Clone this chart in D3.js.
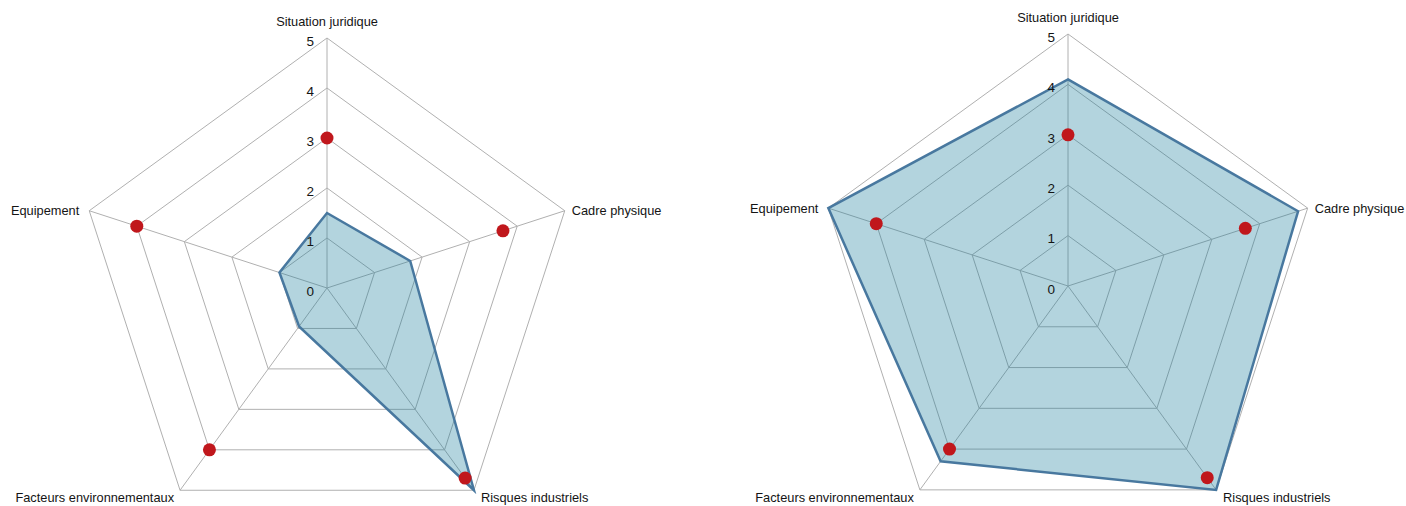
<!DOCTYPE html>
<html>
<head>
<meta charset="utf-8">
<script src="https://d3js.org/d3.v7.min.js"></script>
<style>
  html, body { margin: 0; padding: 0; background: #fff; }
  svg text { font-family: "Liberation Sans", Arial, sans-serif; font-size: 12.8px; fill: #141414; }
</style>
</head>
<body>
<svg id="chart" width="1406" height="506"></svg>
<script>
// Axes, clockwise from the top
const categories = ['Situation juridique', 'Cadre physique', 'Risques industriels', 'Facteurs environnementaux', 'Equipement'];
const tickValues = [0, 1, 2, 3, 4, 5];

// Blue area series, one per chart
const leftValues = [1.5, 1.75, 5, 0.95, 1];
const rightValues = [4.1, 4.8, 5, 4.3, 5];

// Red marker series (same target in both charts)
const targetValues = [3, 3.7, 4.7, 4, 4];

const svg = d3.select('#chart');

/**
 * Draw one radar chart
 */
function drawRadar(cx, cy, radius, values, markers) {
    const g = svg.append('g').attr('transform', `translate(${cx},${cy})`);
    const r = d3.scaleLinear().domain([0, 5]).range([0, radius]);
    const angle = d3.scaleLinear().domain([0, categories.length]).range([0, 2 * Math.PI]);

    const pt = (i, v) => [Math.sin(angle(i)) * r(v), -Math.cos(angle(i)) * r(v)];

    const ring = d3.lineRadial()
        .angle((d, i) => angle(i))
        .radius(d => r(d))
        .curve(d3.curveLinearClosed);

    // Grid rings
    g.append('g')
        .selectAll('path')
        .data(tickValues.slice(1))
        .enter()
        .append('path')
        .attr('d', v => ring(categories.map(() => v)))
        .attr('fill', 'none')
        .attr('stroke', '#b0b0b0')
        .attr('stroke-width', 1);

    // Spokes
    g.append('g')
        .selectAll('line')
        .data(categories)
        .enter()
        .append('line')
        .attr('x1', 0)
        .attr('y1', 0)
        .attr('x2', (d, i) => pt(i, 5)[0])
        .attr('y2', (d, i) => pt(i, 5)[1])
        .attr('stroke', '#b0b0b0')
        .attr('stroke-width', 1);

    // Area
    g.append('path')
        .attr('d', ring(values))
        .attr('fill', 'rgb(25,125,155)')
        .attr('fill-opacity', 0.33)
        .attr('stroke', 'none');

    g.append('path')
        .attr('d', ring(values))
        .attr('fill', 'none')
        .attr('stroke', '#48789f')
        .attr('stroke-width', 2.5)
        .attr('stroke-linejoin', 'miter');

    // Tick labels along the top spoke
    g.append('g')
        .selectAll('text')
        .data(tickValues)
        .enter()
        .append('text')
        .attr('x', -13)
        .attr('y', v => -r(v) + 3)
        .attr('dy', '0.35em')
        .attr('text-anchor', 'end')
        .style('font-size', '13.5px')
        .text(v => v);

    // Markers
    g.append('g')
        .selectAll('circle')
        .data(markers)
        .enter()
        .append('circle')
        .attr('cx', (v, i) => pt(i, v)[0])
        .attr('cy', (v, i) => pt(i, v)[1])
        .attr('r', 6.5)
        .attr('fill', '#c0171c');

    // Axis labels
    const place = [
        { dx: 0, dy: -12, anchor: 'middle', mid: false },
        { dx: 7, dy: 0, anchor: 'start', mid: true },
        { dx: 7, dy: 12, anchor: 'start', mid: false },
        { dx: -6, dy: 12, anchor: 'end', mid: false },
        { dx: -10, dy: 0, anchor: 'end', mid: true }
    ];

    g.append('g')
        .selectAll('text')
        .data(categories)
        .enter()
        .append('text')
        .attr('x', (d, i) => pt(i, 5)[0] + place[i].dx)
        .attr('y', (d, i) => pt(i, 5)[1] + place[i].dy)
        .attr('dy', (d, i) => place[i].mid ? '0.35em' : null)
        .attr('text-anchor', (d, i) => place[i].anchor)
        .text(d => d);
}

drawRadar(327, 288, 250, leftValues, targetValues);
drawRadar(1068, 286, 252, rightValues, targetValues);
</script>
</body>
</html>
